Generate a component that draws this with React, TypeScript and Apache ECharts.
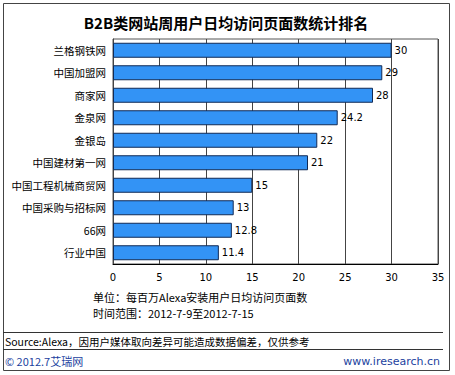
import React, { useEffect, useRef } from "react";
import * as echarts from "echarts";

const titleText = "B2B类网站周用户日均访问页面数统计排名";
const categories = [
  "兰格钢铁网",
  "中国加盟网",
  "商家网",
  "金泉网",
  "金银岛",
  "中国建材第一网",
  "中国工程机械商贸网",
  "中国采购与招标网",
  "66网",
  "行业中国",
];
const values = [30, 29, 28, 24.2, 22, 21, 15, 13, 12.8, 11.4];
const valueLabels = ["30", "29", "28", "24.2", "22", "21", "15", "13", "12.8", "11.4"];
const xTicks = [0, 5, 10, 15, 20, 25, 30, 35];
const noteLines = ["单位：每百万Alexa安装用户日均访问页面数", "时间范围：2012-7-9至2012-7-15"];
const sourceText = "Source:Alexa，因用户媒体取向差异可能造成数据偏差，仅供参考";
const copyrightText = "© 2012.7艾瑞网";
const siteText = "www.iresearch.cn";

const CJK = '"Noto Sans CJK SC", "DejaVu Sans", sans-serif';
const NUM = '"DejaVu Sans", "Noto Sans CJK SC", sans-serif';

export default function App() {
  const ref = useRef<HTMLDivElement>(null);
  useEffect(() => {
    document.body.style.margin = "0";
    if (!ref.current) return;
    const chart = echarts.init(ref.current, undefined, { renderer: "svg" });
    chart.setOption({
      animation: false,
      backgroundColor: "#ffffff",
      grid: {
        left: 113,
        top: 39,
        width: 325,
        height: 225,
        show: true,
        borderColor: "#555",
        borderWidth: 1,
        containLabel: false,
      },
      xAxis: {
        type: "value",
        min: xTicks[0],
        max: xTicks[xTicks.length - 1],
        interval: 5,
        axisLine: { show: true, lineStyle: { color: "#000", width: 1 } },
        axisTick: { show: false },
        splitLine: { show: true, lineStyle: { color: "#444", width: 1 } },
        axisLabel: { color: "#000", fontSize: 10, fontFamily: NUM, margin: 8 },
      },
      yAxis: {
        type: "category",
        inverse: true,
        data: categories,
        axisLine: { show: true, lineStyle: { color: "#444", width: 1 } },
        axisTick: { show: false },
        axisLabel: { color: "#000", fontSize: 10.5, fontFamily: CJK, margin: 7 },
      },
      series: [
        {
          type: "bar",
          data: values,
          barWidth: 15,
          itemStyle: { color: "#3393f5", borderColor: "#112a55", borderWidth: 1 },
          label: {
            show: true,
            position: "right",
            distance: 3,
            color: "#000",
            fontSize: 10,
            fontFamily: NUM,
            formatter: (p: any) => valueLabels[p.dataIndex],
          },
        },
      ],
      graphic: [
        {
          type: "rect",
          shape: { x: 3.5, y: 3.5, width: 446, height: 367 },
          style: { fill: "none", stroke: "#444", lineWidth: 1 },
          silent: true,
        },
        {
          type: "text",
          x: 226,
          y: 22,
          style: {
            text: titleText,
            fill: "#000",
            font: `bold 15px ${CJK}`,
            textAlign: "center",
            textVerticalAlign: "middle",
          },
        },
        {
          type: "text",
          x: 93,
          y: 297,
          style: { text: noteLines[0], fill: "#000", font: `11px ${CJK}`, textVerticalAlign: "middle" },
        },
        {
          type: "text",
          x: 93,
          y: 313,
          style: { text: noteLines[1], fill: "#000", font: `11px ${CJK}`, textVerticalAlign: "middle" },
        },
        {
          type: "line",
          shape: { x1: 3, y1: 332.5, x2: 443, y2: 332.5 },
          style: { stroke: "#333", lineWidth: 1 },
        },
        {
          type: "text",
          x: 5,
          y: 341,
          style: { text: sourceText, fill: "#000", font: `10.5px ${CJK}`, textVerticalAlign: "middle" },
        },
        {
          type: "line",
          shape: { x1: 3, y1: 349.5, x2: 443, y2: 349.5 },
          style: { stroke: "#333", lineWidth: 1 },
        },
        {
          type: "text",
          x: 5,
          y: 361,
          style: { text: copyrightText, fill: "#1b3f9e", font: `11px ${CJK}`, textVerticalAlign: "middle" },
        },
        {
          type: "text",
          x: 440,
          y: 361,
          style: {
            text: siteText,
            fill: "#1b3f9e",
            font: `11px ${NUM}`,
            textAlign: "right",
            textVerticalAlign: "middle",
          },
        },
      ],
    });
    return () => chart.dispose();
  }, []);
  return <div ref={ref} style={{ width: 455, height: 375 }} />;
}
